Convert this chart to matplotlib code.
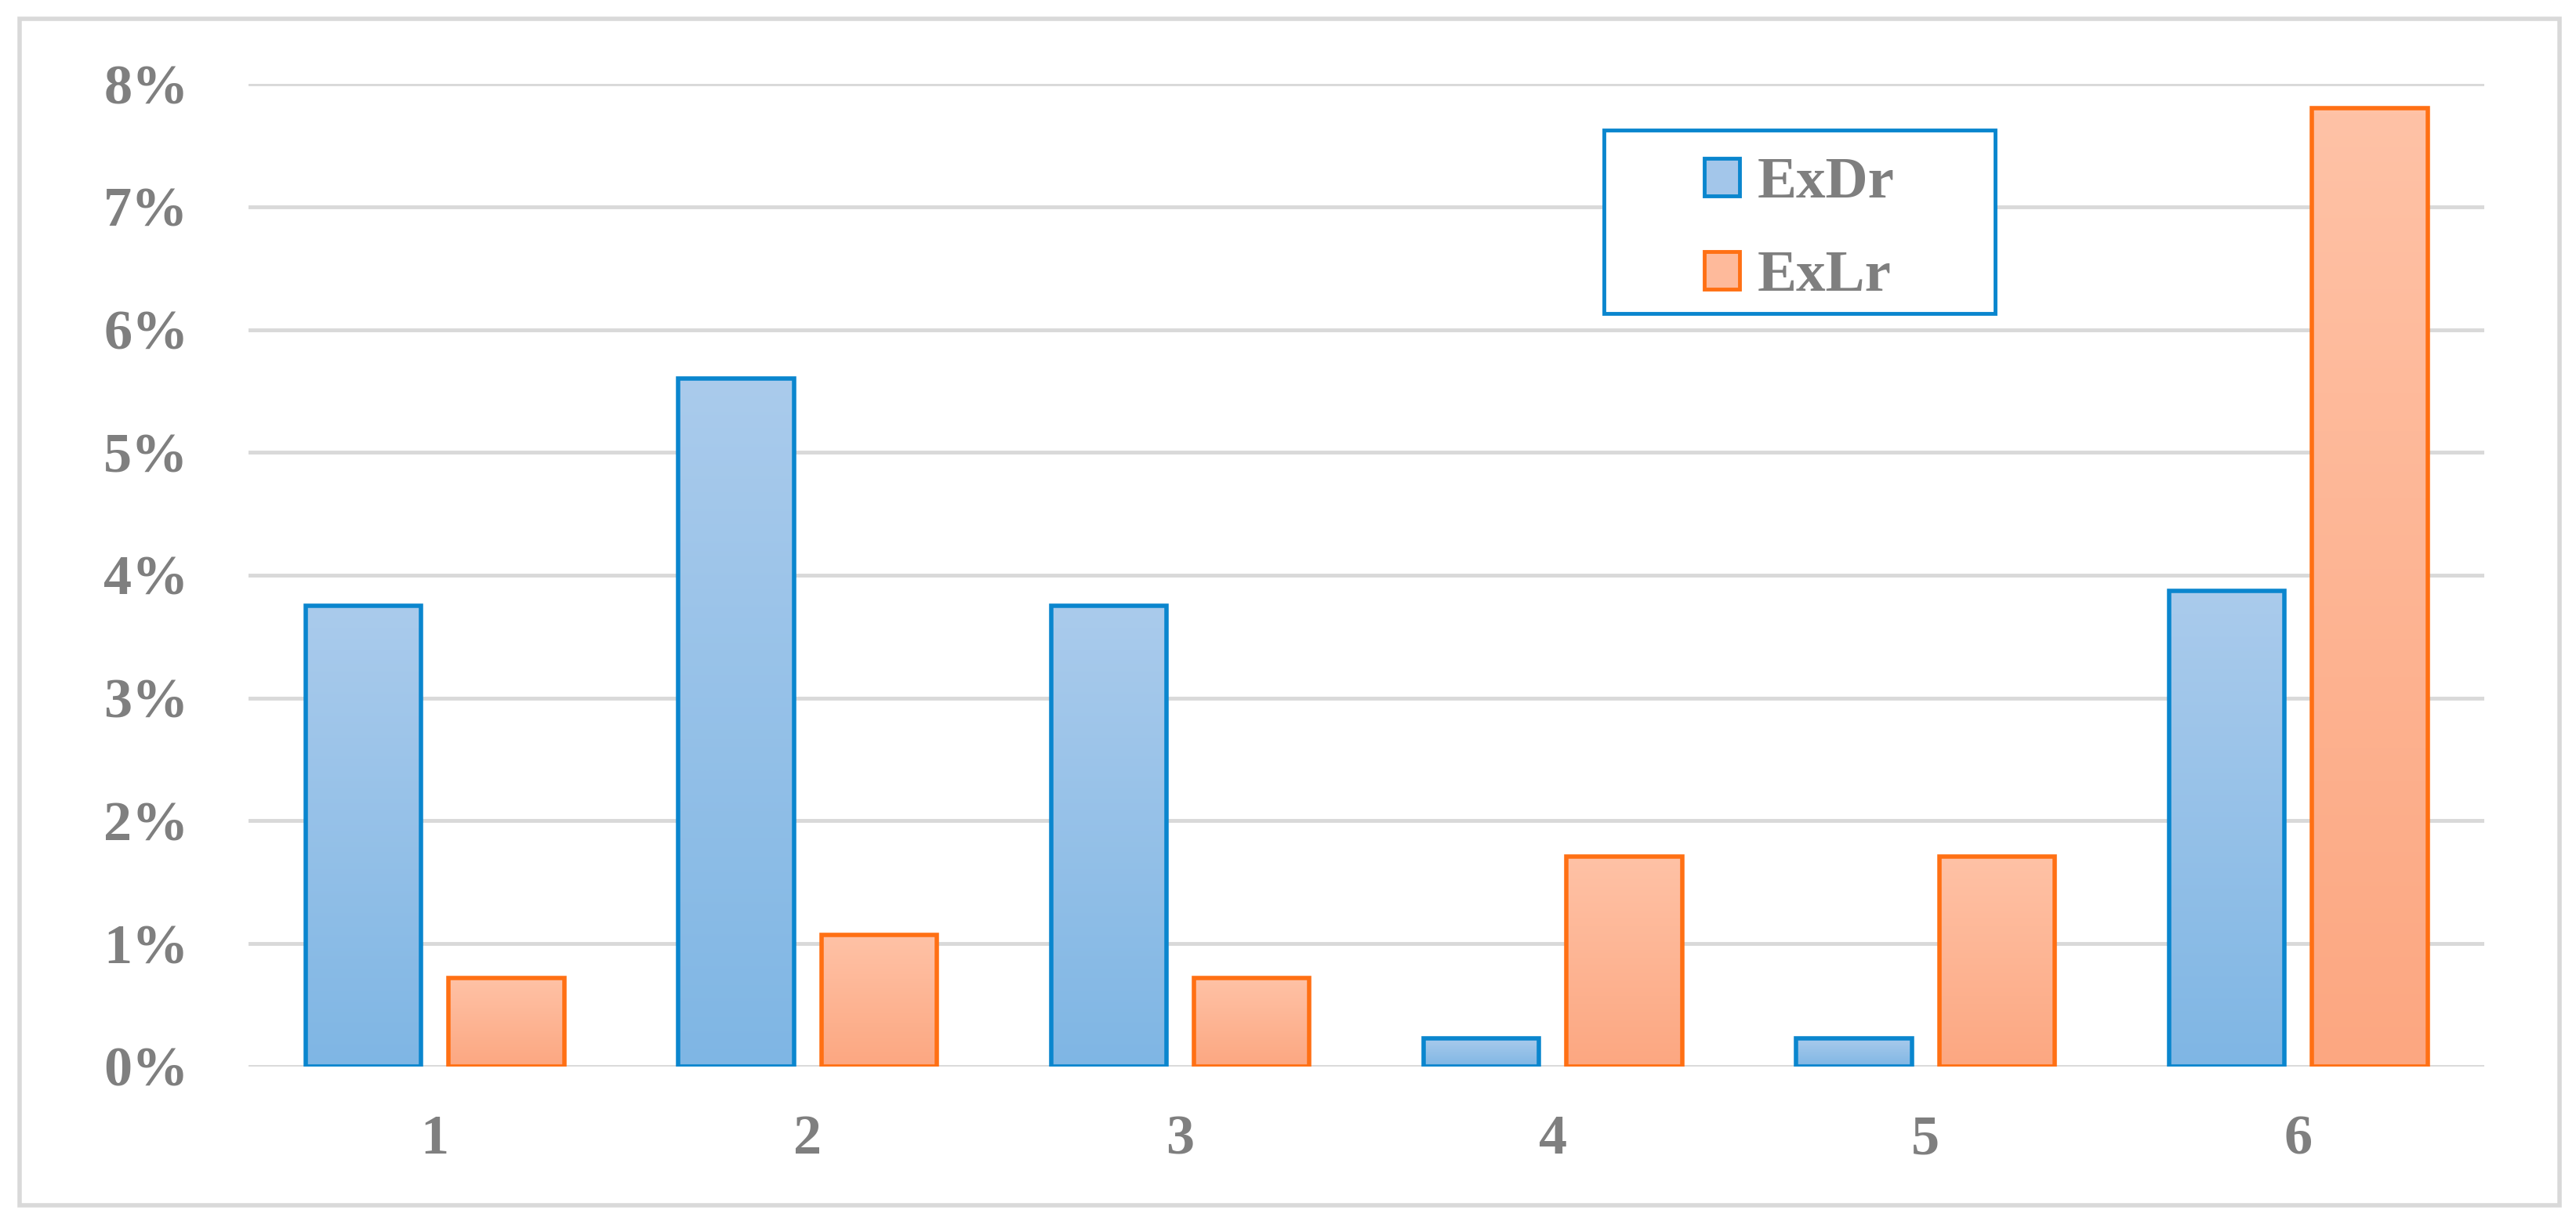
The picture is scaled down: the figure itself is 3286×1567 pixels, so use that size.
import matplotlib
matplotlib.use("Agg")
import matplotlib.pyplot as plt
import numpy as np
from matplotlib.colors import LinearSegmentedColormap
from matplotlib.patches import Patch, Rectangle

# values (percent)
categories = ["1", "2", "3", "4", "5", "6"]
exdr = [3.75, 5.60, 3.75, 0.23, 0.23, 3.87]
exlr = [0.72, 1.07, 0.72, 1.71, 1.71, 7.80]
series_names = ["ExDr", "ExLr"]
yticks = [0, 1, 2, 3, 4, 5, 6, 7, 8]

text_grey = "#7F7F7F"
grid_grey = "#D9D9D9"
blue_edge = "#0A86CE"
orange_edge = "#FF7014"
blue_top, blue_bot = "#AACBEC", "#7FB6E4"
orange_top, orange_bot = "#FFC2A6", "#FCA781"

plt.rcParams["font.family"] = ["Liberation Serif", "DejaVu Serif"]
plt.rcParams["font.weight"] = "bold"

fig = plt.figure(figsize=(32.86, 15.67), dpi=100)
ax = fig.add_axes([0.0965, 0.1315, 0.868, 0.8002])

x = np.arange(len(categories))
width = 0.31
offset = 0.192


def gradient_bars(xpos, vals, top, bot, edge):
    bars = ax.bar(xpos, vals, width, facecolor="none", edgecolor=edge,
                  linewidth=4, zorder=4)
    cmap = LinearSegmentedColormap.from_list("g", [bot, top])
    grad = np.linspace(0, 1, 256).reshape(-1, 1)
    for b in bars:
        bx, by = b.get_x(), b.get_y()
        bw, bh = b.get_width(), b.get_height()
        im = ax.imshow(grad, extent=[bx, bx + bw, by, by + bh], origin="lower",
                       cmap=cmap, aspect="auto", zorder=3, interpolation="bilinear")
        im.set_clip_path(b)
    return bars


gradient_bars(x - offset, exdr, blue_top, blue_bot, blue_edge)
gradient_bars(x + offset, exlr, orange_top, orange_bot, orange_edge)

ax.set_xlim(-0.5, len(categories) - 0.5)
ax.set_ylim(0, 8)
ax.set_yticks(yticks)
ax.set_yticklabels([f"{t}%" for t in yticks])
ax.set_xticks(x)
ax.set_xticklabels(categories)
ax.tick_params(axis="both", length=0, labelsize=52, colors=text_grey)
ax.tick_params(axis="y", pad=55)
ax.tick_params(axis="x", pad=44)
for lab in ax.get_xticklabels() + ax.get_yticklabels():
    lab.set_fontweight("bold")

ax.grid(axis="y", color=grid_grey, linewidth=3.5, zorder=0)
ax.set_axisbelow(True)
for s in ax.spines.values():
    s.set_visible(False)

# legend: framed box with centred entries
box = Rectangle((0.606, 0.766), 0.175, 0.187, transform=ax.transAxes,
                facecolor="white", edgecolor=blue_edge, linewidth=3.5, zorder=6)
ax.add_patch(box)
handles = [Patch(facecolor="#A3C6EA", edgecolor=blue_edge, linewidth=3.5),
           Patch(facecolor="#FEBA9B", edgecolor=orange_edge, linewidth=3.5)]
leg = ax.legend(handles, series_names, loc="center",
                bbox_to_anchor=(0.6935, 0.851), frameon=False,
                handlelength=0.6, handleheight=0.6,
                handletextpad=0.3, labelspacing=0.68,
                prop={"weight": "bold", "size": 54})
leg.set_zorder(7)
for t in leg.get_texts():
    t.set_color(text_grey)

# outer chart border
fig.patches.append(Rectangle((0.0076, 0.0185), 0.986, 0.9662,
                             transform=fig.transFigure, fill=False,
                             edgecolor=grid_grey, linewidth=4))

fig.savefig("out.png", dpi=100, facecolor="white")
